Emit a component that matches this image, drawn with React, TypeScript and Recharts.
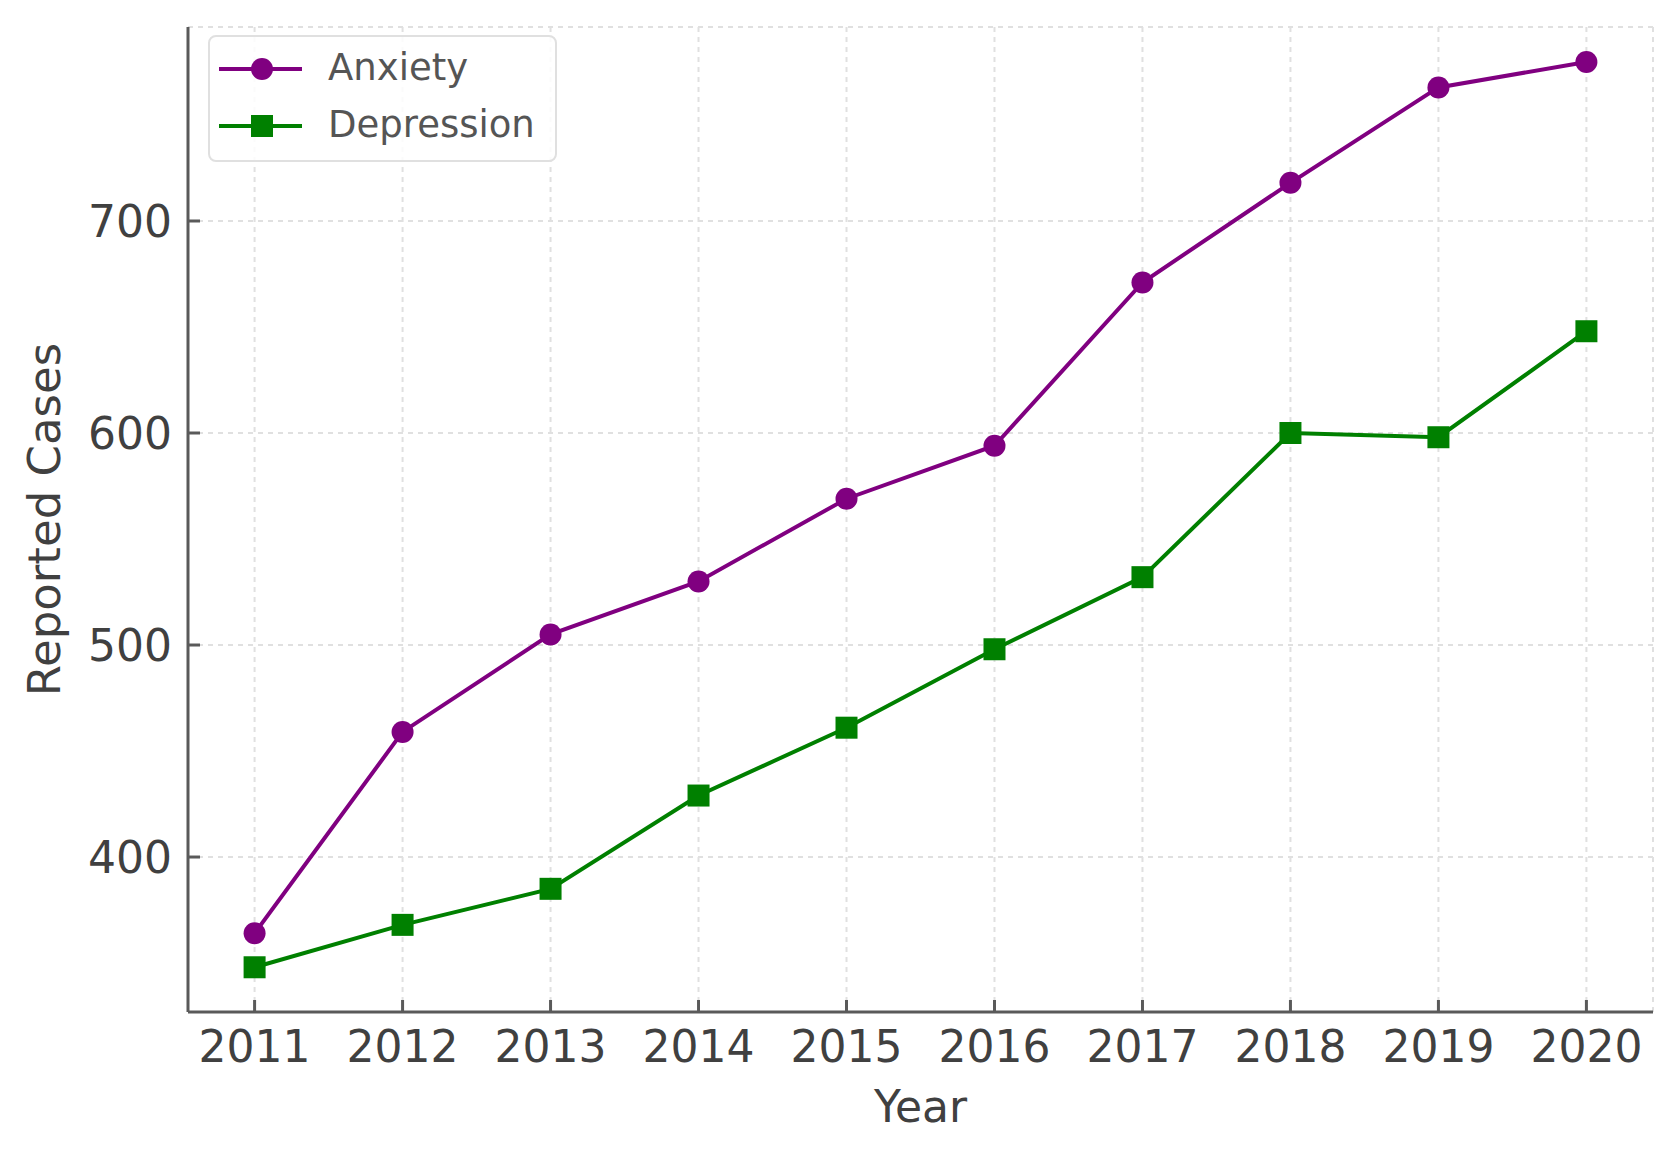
import React from 'react';
import {
  LineChart,
  Line,
  XAxis,
  YAxis,
  CartesianGrid,
  Legend,
} from 'recharts';

const YEARS: number[] = [2011, 2012, 2013, 2014, 2015, 2016, 2017, 2018, 2019, 2020];
const ANXIETY: number[] = [364, 459, 505, 530, 569, 594, 671, 718, 763, 775];
const DEPRESSION: number[] = [348, 368, 385, 429, 461, 498, 532, 600, 598, 648];
const Y_TICKS: number[] = [400, 500, 600, 700];

const PURPLE = '#800080';
const GREEN = '#008000';
const AXIS_COLOR = '#5a5a5a';
const TEXT_COLOR = '#404040';
const FONT = '"DejaVu Sans", sans-serif';

interface Row {
  year: number;
  anxiety: number;
  depression: number;
}

const data: Row[] = YEARS.map((year, i) => ({
  year,
  anxiety: ANXIETY[i],
  depression: DEPRESSION[i],
}));

// matplotlib-style ticks: drawn inward from the spine
function YTick(props: any) {
  const { x, y, payload } = props;
  return (
    <g>
      <line x1={x + 16} x2={x + 28} y1={y} y2={y} stroke={AXIS_COLOR} strokeWidth={3} />
      <text x={x} y={y} dy="0.36em" textAnchor="end" fontSize={44} fontFamily={FONT} fill={TEXT_COLOR}>
        {payload.value}
      </text>
    </g>
  );
}

function XTick(props: any) {
  const { x, y, payload } = props;
  return (
    <g>
      <line x1={x} x2={x} y1={y - 50} y2={y - 62} stroke={AXIS_COLOR} strokeWidth={3} />
      <text x={x} y={y} textAnchor="middle" fontSize={44} fontFamily={FONT} fill={TEXT_COLOR}>
        {payload.value}
      </text>
    </g>
  );
}

function SquareDot(props: any) {
  const { cx, cy, index } = props;
  if (cx == null || cy == null) return <g key={`sq-${index}`} />;
  return <rect key={`sq-${index}`} x={cx - 11} y={cy - 11} width={22} height={22} fill={GREEN} />;
}

function LegendBox(props: any) {
  const { payload } = props;
  return (
    <div
      style={{
        width: 345,
        height: 123,
        border: '2px solid #e0e0e0',
        borderRadius: 8,
        background: 'rgba(255,255,255,0.85)',
        boxSizing: 'content-box',
      }}
    >
      {(payload || []).map((entry: any) => {
        const square = entry.dataKey === 'depression';
        return (
          <div key={entry.value} style={{ position: 'relative', height: 57, top: 4 }}>
            <svg width={100} height={40} style={{ position: 'absolute', left: 0, top: 8 }}>
              <line x1={9} x2={92} y1={20} y2={20} stroke={entry.color} strokeWidth={4} />
              {square ? (
                <rect x={41} y={9} width={22} height={22} fill={entry.color} />
              ) : (
                <circle cx={52} cy={20} r={11} fill={entry.color} />
              )}
            </svg>
            <span
              style={{
                position: 'absolute',
                left: 118,
                top: 4,
                fontFamily: FONT,
                fontSize: 37,
                color: '#555',
                lineHeight: '46px',
              }}
            >
              {entry.value}
            </span>
          </div>
        );
      })}
    </div>
  );
}

export default function App() {
  return (
    <div style={{ position: 'absolute', left: 0, top: 0, background: '#fff' }}>
      <LineChart
        width={1680}
        height={1150}
        data={data}
        margin={{ top: 27, right: 27, left: 0, bottom: 0 }}
      >
        <CartesianGrid stroke="#e0e0e0" strokeWidth={2} strokeDasharray="5 5" />
        <XAxis
          dataKey="year"
          type="number"
          domain={[2010.55, 2020.45]}
          ticks={YEARS}
          allowDataOverflow
          height={138}
          tickSize={0}
          tickMargin={50}
          tick={<XTick />}
          axisLine={{ stroke: AXIS_COLOR, strokeWidth: 3 }}
          tickLine={false}
          interval={0}
          label={{
            value: 'Year',
            position: 'insideBottom',
            offset: 28,
            style: { fontSize: 44, fontFamily: FONT, fill: TEXT_COLOR },
          }}
        />
        <YAxis
          type="number"
          domain={[326.9, 791.5]}
          ticks={Y_TICKS}
          allowDataOverflow
          width={188}
          tickSize={0}
          tickMargin={16}
          tick={<YTick />}
          axisLine={{ stroke: AXIS_COLOR, strokeWidth: 3 }}
          tickLine={false}
          interval={0}
          label={{
            value: 'Reported Cases',
            angle: -90,
            position: 'insideLeft',
            offset: 44,
            style: { fontSize: 45, fontFamily: FONT, fill: TEXT_COLOR, textAnchor: 'middle' },
          }}
        />
        <Legend
          layout="vertical"
          align="center"
          verticalAlign="middle"
          content={<LegendBox />}
          wrapperStyle={{ left: 208, top: 35, width: 349, height: 127 }}
        />
        <Line
          type="linear"
          dataKey="anxiety"
          name="Anxiety"
          stroke={PURPLE}
          strokeWidth={4}
          dot={{ r: 11, fill: PURPLE, stroke: PURPLE, strokeWidth: 0 }}
          activeDot={false}
          isAnimationActive={false}
        />
        <Line
          type="linear"
          dataKey="depression"
          name="Depression"
          stroke={GREEN}
          strokeWidth={4}
          dot={<SquareDot />}
          activeDot={false}
          isAnimationActive={false}
        />
      </LineChart>
    </div>
  );
}
